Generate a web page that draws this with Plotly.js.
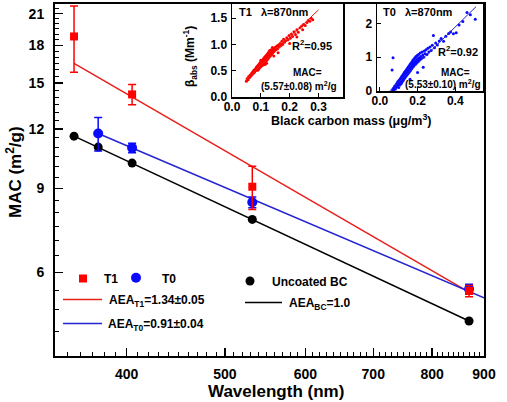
<!DOCTYPE html>
<html>
<head>
<meta charset="utf-8">
<script src="https://cdn.plot.ly/plotly-3.0.1.min.js"></script>
<style>html,body{margin:0;padding:0;background:#fff;}#chart{width:507px;height:402px;}</style>
</head>
<body>
<div id="chart"></div>
<script>
// ---- Main chart data (wavelength in nm, MAC in m2/g) ----
const t1Wavelength = [355, 405, 532, 870];
const t1MAC = [18.8, 14.2, 9.08, 5.48];
const t1Err = [3.0, 0.7, 0.95, 0.15];

const t0Wavelength = [375, 405, 532, 870];
const t0MAC = [11.75, 10.96, 8.42, 5.53];
const t0Err = [0.95, 0.25, 0.22, 0.13];

const bcWavelength = [355, 375, 405, 532, 870];
const bcMAC = [11.6, 11.0, 10.18, 7.75, 4.74];

// fitted power-law lines (end points)
const t1FitWl = [355, 870];
const t1FitMAC = [16.5, 5.45];
const t0FitWl = [375, 900];
const t0FitMAC = [11.75, 5.30];
const bcFitWl = [355, 870];
const bcFitMAC = [11.6, 4.74];

const yTicks = [6, 9, 12, 15, 18, 21];
const xTicks = [400, 500, 600, 700, 800, 900];

// ---- Inset T1 (870 nm): BC mass (ug/m3) vs babs (Mm-1) ----
const t1BC = [0.050,0.053,0.056,0.058,0.061,0.063,0.066,0.068,0.070,0.072,0.074,0.076,0.078,0.080,0.082,0.084,0.085,0.087,0.088,0.089,0.090,0.091,0.092,0.093,0.094,0.095,0.096,0.097,0.098,0.099,0.100,0.101,0.102,0.103,0.104,0.105,0.106,0.107,0.108,0.109,0.110,0.111,0.112,0.113,0.114,0.115,0.116,0.117,0.118,0.119,0.120,0.121,0.122,0.123,0.124,0.125,0.126,0.127,0.128,0.129,0.130,0.131,0.132,0.133,0.134,0.136,0.137,0.138,0.140,0.141,0.143,0.145,0.147,0.149,0.151,0.153,0.156,0.158,0.161,0.164,0.167,0.170,0.173,0.176,0.179,0.182,0.186,0.190,0.194,0.198,0.202,0.206,0.210,0.215,0.220,0.225,0.230,0.236,0.242,0.248,0.254,0.260,0.265,0.270,0.275,0.280,0.100,0.115,0.130,0.145,0.160,0.175,0.200,0.225,0.245,0.120,0.140];
const t1Babs = [0.30,0.35,0.33,0.39,0.37,0.42,0.40,0.45,0.43,0.48,0.45,0.51,0.47,0.53,0.50,0.56,0.52,0.58,0.54,0.51,0.60,0.56,0.53,0.62,0.58,0.55,0.64,0.60,0.57,0.66,0.62,0.58,0.68,0.63,0.60,0.70,0.65,0.61,0.72,0.67,0.63,0.74,0.69,0.65,0.76,0.71,0.67,0.78,0.73,0.69,0.80,0.75,0.71,0.82,0.77,0.73,0.84,0.79,0.75,0.86,0.81,0.77,0.88,0.83,0.79,0.90,0.85,0.81,0.88,0.84,0.91,0.86,0.93,0.89,0.95,0.90,0.97,0.92,0.99,0.95,1.02,0.98,1.06,1.01,1.10,1.04,1.07,1.13,1.09,1.17,1.12,1.20,1.15,1.24,1.19,1.28,1.23,1.32,1.35,1.38,1.36,1.42,1.46,1.44,1.50,1.47,0.70,0.62,0.88,0.78,0.84,1.00,1.02,1.14,1.28,0.64,0.94];
const t1FitBC = [0.045, 0.300];
const t1FitBabs = [0.31, 1.66];

// ---- Inset T0 (870 nm) ----
const t0BC = [0.068,0.072,0.075,0.078,0.080,0.083,0.085,0.088,0.090,0.092,0.095,0.097,0.100,0.100,0.102,0.105,0.107,0.108,0.110,0.112,0.114,0.115,0.117,0.119,0.120,0.122,0.124,0.125,0.127,0.129,0.130,0.132,0.134,0.135,0.137,0.139,0.140,0.142,0.144,0.145,0.147,0.149,0.150,0.152,0.154,0.155,0.157,0.159,0.160,0.162,0.164,0.165,0.167,0.169,0.170,0.172,0.174,0.175,0.177,0.179,0.180,0.182,0.184,0.186,0.188,0.190,0.192,0.194,0.196,0.198,0.200,0.203,0.205,0.208,0.211,0.214,0.217,0.220,0.224,0.228,0.232,0.236,0.240,0.245,0.250,0.255,0.260,0.266,0.272,0.278,0.284,0.290,0.296,0.305,0.315,0.325,0.338,0.350,0.365,0.375,0.390,0.405,0.420,0.440,0.462,0.480,0.506,0.065,0.070,0.160,0.200,0.230];
const t0Babs = [0.02,0.08,0.04,0.14,0.10,0.06,0.18,0.12,0.22,0.15,0.27,0.19,0.10,0.30,0.24,0.33,0.18,0.28,0.38,0.31,0.22,0.42,0.35,0.27,0.46,0.38,0.31,0.50,0.42,0.36,0.55,0.46,0.40,0.58,0.50,0.44,0.62,0.53,0.47,0.66,0.57,0.51,0.70,0.60,0.55,0.74,0.64,0.58,0.78,0.68,0.62,0.82,0.71,0.66,0.86,0.75,0.70,0.90,0.79,0.74,0.94,0.83,0.78,0.98,0.87,0.80,1.02,0.91,0.84,1.05,0.95,0.88,1.08,0.98,0.92,1.12,1.02,0.96,1.15,1.06,1.00,1.18,1.10,1.22,1.08,1.26,1.15,1.30,1.20,1.35,1.64,1.28,1.42,1.36,1.48,1.55,1.47,1.62,1.70,1.74,1.69,1.72,1.95,2.05,2.32,2.25,2.12,0.62,0.98,0.35,0.55,0.70];
const t0FitBC = [0.052, 0.510];
const t0FitBabs = [0.0, 2.49];

// ---- geometry helpers (pixel -> paper) ----
const PL = 55, PR = 484, PT = 4, PB = 356;
const px = x => (x - PL) / (PR - PL);
const py = y => (PB - y) / (PB - PT);

const RED = '#ff0000', REDL = '#e8201c', BLUE = '#0a0aff', BLUEL = '#2424d0', BLACK = '#000000';
const FAM = 'Liberation Sans, Arial, sans-serif';
const bold = (size, color) => ({family: FAM, size: size, color: color || '#000', weight: 'bold'});

const traces = [
  {x: t1FitWl, y: t1FitMAC, mode: 'lines', line: {color: REDL, width: 1.5}, xaxis: 'x', yaxis: 'y', hoverinfo: 'skip'},
  {x: t0FitWl, y: t0FitMAC, mode: 'lines', line: {color: BLUEL, width: 1.5}, xaxis: 'x', yaxis: 'y', hoverinfo: 'skip'},
  {x: bcFitWl, y: bcFitMAC, mode: 'lines', line: {color: BLACK, width: 1.5}, xaxis: 'x', yaxis: 'y', hoverinfo: 'skip'},
  {x: bcWavelength, y: bcMAC, mode: 'markers', marker: {symbol: 'circle', size: 9, color: BLACK}, xaxis: 'x', yaxis: 'y'},
  {x: t0Wavelength, y: t0MAC, mode: 'markers', marker: {symbol: 'circle', size: 10, color: BLUE},
   error_y: {type: 'data', array: t0Err, visible: true, color: BLUE, thickness: 1.5, width: 4}, xaxis: 'x', yaxis: 'y'},
  {x: t1Wavelength, y: t1MAC, mode: 'markers', marker: {symbol: 'square', size: 8, color: RED},
   error_y: {type: 'data', array: t1Err, visible: true, color: RED, thickness: 1.5, width: 4}, xaxis: 'x', yaxis: 'y'},
  // inset T1
  {x: t1BC, y: t1Babs, mode: 'markers', marker: {size: 3, color: RED}, xaxis: 'x2', yaxis: 'y2'},
  {x: t1FitBC, y: t1FitBabs, mode: 'lines', line: {color: REDL, width: 1}, xaxis: 'x2', yaxis: 'y2'},
  // inset T0
  {x: t0BC, y: t0Babs, mode: 'markers', marker: {size: 3, color: BLUE}, xaxis: 'x3', yaxis: 'y3'},
  {x: t0FitBC, y: t0FitBabs, mode: 'lines', line: {color: BLUEL, width: 1}, xaxis: 'x3', yaxis: 'y3'}
];

function range(a, b, s) { const r = []; for (let v = a; v <= b + 1e-9; v += s) r.push(Math.round(v * 100) / 100); return r; }
const xMinor = range(340, 900, 10).filter(v => xTicks.indexOf(v) < 0);
const yMinor = range(4, 22, 0.5).filter(v => yTicks.indexOf(v) < 0);

const ax = {showline: true, linecolor: '#000', mirror: true, showgrid: false, zeroline: false, ticks: 'inside', tickcolor: '#000'};

const layout = {
  width: 507, height: 402,
  margin: {l: PL, r: 507 - PR, t: PT, b: 402 - PB, pad: 0},
  paper_bgcolor: '#fff', plot_bgcolor: '#fff',
  showlegend: false,
  xaxis: Object.assign({}, ax, {type: 'log', range: [Math.log10(340), Math.log10(900)], domain: [0, 1], anchor: 'y',
    tickmode: 'array', tickvals: xTicks, ticktext: xTicks.map(String), ticklen: 8, tickwidth: 1.5, linewidth: 2,
    tickfont: bold(14), ticklabelstandoff: 4,
    minor: {tickmode: 'array', tickvals: xMinor, ticklen: 4, tickwidth: 1, tickcolor: '#000', ticks: 'inside'}}),
  yaxis: Object.assign({}, ax, {type: 'log', range: [Math.log10(4.0), Math.log10(22)], domain: [0, 1], anchor: 'x',
    tickmode: 'array', tickvals: yTicks, ticktext: yTicks.map(String), ticklen: 8, tickwidth: 1.5, linewidth: 2,
    tickfont: bold(14), ticklabelstandoff: 6,
    minor: {tickmode: 'array', tickvals: yMinor, ticklen: 4, tickwidth: 1, tickcolor: '#000', ticks: 'inside'}}),
  xaxis2: Object.assign({}, ax, {domain: [px(232), px(343)], anchor: 'y2', range: [0, 0.385],
    tickmode: 'array', tickvals: [0, 0.1, 0.2, 0.3], ticktext: ['0.0', '0.1', '0.2', '0.3'], ticklen: 4, linewidth: 1.5,
    tickfont: bold(12), ticklabelstandoff: -2}),
  yaxis2: Object.assign({}, ax, {domain: [py(97), 1], anchor: 'x2', range: [0, 1.77],
    tickmode: 'array', tickvals: [0, 0.5, 1.0, 1.5], ticktext: ['0.0', '0.5', '1.0', '1.5'], ticklen: 4, linewidth: 1.5,
    tickfont: bold(12), ticklabelstandoff: 1}),
  xaxis3: Object.assign({}, ax, {domain: [px(377), px(483)], anchor: 'y3', range: [-0.015, 0.547],
    tickmode: 'array', tickvals: [0, 0.2, 0.4], ticktext: ['0.0', '0.2', '0.4'], ticklen: 4, linewidth: 1.5,
    tickfont: bold(12), ticklabelstandoff: -2}),
  yaxis3: Object.assign({}, ax, {domain: [py(91), 1], anchor: 'x3', range: [0, 2.57],
    tickmode: 'array', tickvals: [0, 1, 2], ticktext: ['0', '1', '2'], ticklen: 4, linewidth: 1.5,
    tickfont: bold(12), ticklabelstandoff: 1}),
  shapes: [
    {type: 'rect', xref: 'paper', yref: 'paper', x0: px(79), x1: px(87), y0: py(274.5), y1: py(282.5), fillcolor: RED, line: {width: 0}},
    {type: 'circle', xref: 'paper', yref: 'paper', x0: px(131), x1: px(141), y0: py(272.7), y1: py(282.7), fillcolor: BLUE, line: {width: 0}},
    {type: 'circle', xref: 'paper', yref: 'paper', x0: px(245.5), x1: px(254.5), y0: py(276.5), y1: py(285.5), fillcolor: BLACK, line: {width: 0}},
    {type: 'line', xref: 'paper', yref: 'paper', x0: px(63), x1: px(102), y0: py(299.5), y1: py(299.5), line: {color: REDL, width: 1.5}},
    {type: 'line', xref: 'paper', yref: 'paper', x0: px(63), x1: px(102), y0: py(323.5), y1: py(323.5), line: {color: BLUEL, width: 1.5}},
    {type: 'line', xref: 'paper', yref: 'paper', x0: px(245), x1: px(282), y0: py(302.5), y1: py(302.5), line: {color: BLACK, width: 1.5}}
  ],
  annotations: [
    {text: 'MAC (m<sup>2</sup>/g)', x: px(14), y: py(172), textangle: -90},
    {text: 'Wavelength (nm)', x: px(276), y: py(391), font: bold(17)},
    {text: 'T1', x: px(102), y: py(279), xanchor: 'left', font: bold(12)},
    {text: 'T0', x: px(160), y: py(279), xanchor: 'left', font: bold(12)},
    {text: 'Uncoated BC', x: px(270), y: py(282), xanchor: 'left', font: bold(12)},
    {text: 'AEA<sub>T1</sub>=1.34±0.05', x: px(107), y: py(301), xanchor: 'left', font: bold(12)},
    {text: 'AEA<sub>T0</sub>=0.91±0.04', x: px(106), y: py(325), xanchor: 'left', font: bold(12)},
    {text: 'AEA<sub>BC</sub>=1.0', x: px(287), y: py(304), xanchor: 'left', font: bold(12)},
    // insets
    {text: 'T1   λ=870nm', x: px(237), y: py(12), xanchor: 'left', font: bold(11)},
    {text: 'R<sup>2</sup>=0.95', x: px(334), y: py(45), xanchor: 'right', font: bold(11)},
    {text: 'MAC=', x: px(307), y: py(72), font: bold(10)},
    {text: '(5.57±0.08) m<sup>2</sup>/g', x: px(299), y: py(86), font: bold(10)},
    {text: 'T0   λ=870nm', x: px(381), y: py(12), xanchor: 'left', font: bold(11)},
    {text: 'R<sup>2</sup>=0.92', x: px(480), y: py(51), xanchor: 'right', font: bold(11)},
    {text: 'MAC=', x: px(455), y: py(72), font: bold(10)},
    {text: '(5.53±0.10) m<sup>2</sup>/g', x: px(443), y: py(84), font: bold(10)},
    {text: 'β<sub>abs</sub> (Mm<sup>-1</sup>)', x: px(190), y: py(57), textangle: -90, font: bold(12)},
    {text: 'Black carbon mass (μg/m<sup>3</sup>)', x: px(351), y: py(120), font: bold(12.5)}
  ].map(a => Object.assign({xref: 'paper', yref: 'paper', showarrow: false, xanchor: 'center', yanchor: 'middle', font: bold(17)}, a))
};

Plotly.newPlot('chart', traces, layout, {staticPlot: true, displayModeBar: false});
</script>
</body>
</html>
